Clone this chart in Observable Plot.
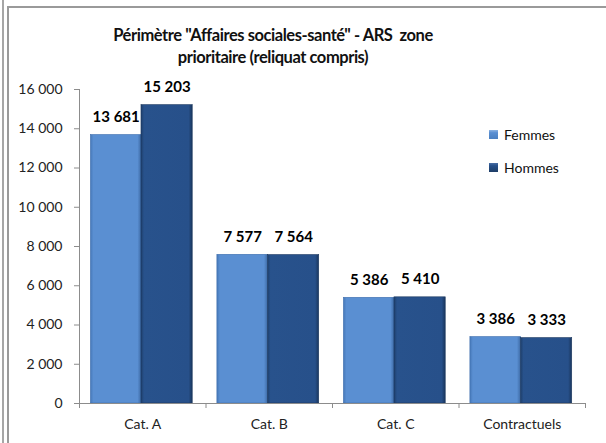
<!DOCTYPE html>
<html>
<head>
<meta charset="utf-8">
<script src="https://cdn.jsdelivr.net/npm/d3@7"></script>
<script src="https://cdn.jsdelivr.net/npm/@observablehq/plot@0.6"></script>
<style>
  html, body { margin: 0; padding: 0; background: #fff; }
  body { width: 606px; height: 443px; position: relative; overflow: hidden; font-family: Lato, "Open Sans", sans-serif; }
  #outer { position: absolute; left: 2px; top: 0; width: 2px; height: 443px; background: #a6a6a6; }
  #frame { position: absolute; left: 7px; top: 6px; width: 620px; height: 460px; border-left: 2px solid #9a9a9a; border-top: 2px solid #9a9a9a; }
  #title { position: absolute; left: 0; width: 546px; top: 24px; text-align: center; font-weight: bold; font-size: 16.5px; letter-spacing: -0.45px; line-height: 22px; color: #111; }
  #chart { position: absolute; left: 0; top: 0; }
  .leg { position: absolute; left: 489px; font-size: 14px; color: #111; display: flex; align-items: center; }
  .sw { width: 9px; height: 9px; margin-right: 6px; }
</style>
</head>
<body>
<div id="outer"></div>
<div id="frame"></div>
<div id="chart"></div>
<div id="title">Périmètre "Affaires sociales-santé" - ARS&nbsp; zone<br>prioritaire (reliquat compris)</div>
<div class="leg" style="top:126px"><div class="sw" style="background:linear-gradient(#8db3e2,#5a8fd2 30%,#4a7fc1)"></div>Femmes</div>
<div class="leg" style="top:159px"><div class="sw" style="background:linear-gradient(#4a6fa5,#27508a 30%,#1d3d66)"></div>Hommes</div>
<script>
const categories = ["Cat. A", "Cat. B", "Cat. C", "Contractuels"];
const series = ["Femmes", "Hommes"];
const femmes = [13681, 7577, 5386, 3386];
const hommes = [15203, 7564, 5410, 3333];
const yTicks = [0, 2000, 4000, 6000, 8000, 10000, 12000, 14000, 16000];

const fmt = d => d3.format(",")(d).replace(/,/g, " ");
const gray = "#8c8c8c";

// group layout within each category band (fractions of the band)
const slots = { Femmes: [0.09, 0.49], Hommes: [0.49, 0.895] };
const rows = [];
categories.forEach((c, i) => {
  rows.push({ cat: c, i, sex: "Femmes", value: femmes[i] });
  rows.push({ cat: c, i, sex: "Hommes", value: hommes[i] });
});
const fRows = rows.filter(d => d.sex === "Femmes");
const hRows = rows.filter(d => d.sex === "Hommes");
const x1 = d => d.i + slots[d.sex][0];
const x2 = d => d.i + slots[d.sex][1];
const xm = d => d.i + (slots[d.sex][0] + slots[d.sex][1]) / 2;

const font = "Lato, 'Open Sans', sans-serif";

const chart = Plot.plot({
  width: 606,
  height: 443,
  marginLeft: 79,
  marginRight: 21,
  marginTop: 89,
  marginBottom: 40,
  style: { fontFamily: font, background: "transparent", overflow: "visible" },
  x: { type: "linear", domain: [0, categories.length], axis: null },
  y: { domain: [0, 16000], axis: null },
  marks: [
    Plot.axisY({ ticks: yTicks, label: null, tickSize: 5, tickPadding: 12, tickFormat: fmt, stroke: gray, fill: "#222", fontSize: 14 }),
    Plot.ruleX([0], { stroke: gray }),
    Plot.axisX({ ticks: d3.range(categories.length + 1), label: null, tickSize: 5, tickFormat: () => "", stroke: gray }),
    Plot.axisX({ ticks: categories.map((c, i) => i + 0.5), label: null, tickSize: 0, tickPadding: 16, tickFormat: d => categories[Math.floor(d)], fill: "#222", fontSize: 14 }),
    Plot.rectY(fRows, { x1, x2, y: "value", fill: "url(#gF)", stroke: "#3f6fae", strokeWidth: 0.6 }),
    Plot.rectY(hRows, { x1, x2, y: "value", fill: "url(#gH)", stroke: "#1b3860", strokeWidth: 0.6 }),
    Plot.ruleY([0], { stroke: gray }),
    Plot.text(rows, { x: xm, y: "value", text: d => fmt(d.value), dy: -18, fontWeight: "bold", fontSize: 15, fill: "#000" })
  ]
});

const defs = d3.select(chart).insert("defs", ":first-child");
function grad(id, stops) {
  const g = defs.append("linearGradient").attr("id", id).attr("x1", "0").attr("x2", "1").attr("y1", "0").attr("y2", "0");
  stops.forEach(([o, c]) => g.append("stop").attr("offset", o).attr("stop-color", c));
}
grad("gF", [[0, "#4678b8"], [0.06, "#5a8fd2"], [0.93, "#5a8fd2"], [1, "#3e6ba6"]]);
grad("gH", [[0, "#1e3f6b"], [0.06, "#28528c"], [0.93, "#27508a"], [1, "#1a365d"]]);

document.getElementById("chart").appendChild(chart);
</script>
</body>
</html>
